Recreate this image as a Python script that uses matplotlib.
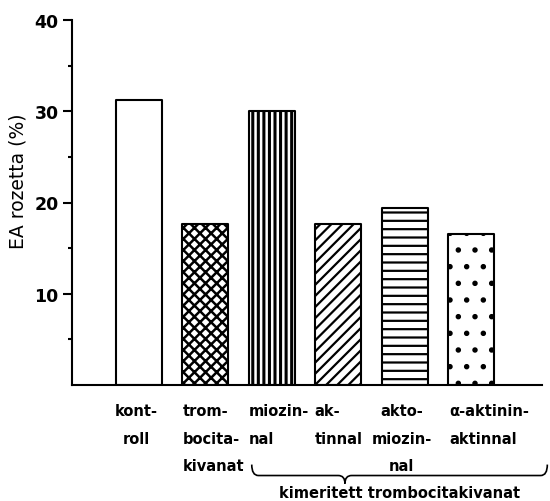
import numpy as np
import matplotlib
matplotlib.use('Agg')
import matplotlib.pyplot as plt
import matplotlib.transforms as mtransforms
from matplotlib.path import Path
from matplotlib.patches import PathPatch


# EA rosette percentages per treatment
labels = ['kont-\nroll', 'trom-\nbocita-\nkivanat', 'miozin-\nnal',
          'ak-\ntinnal', 'akto-\nmiozin-\nnal', 'α-aktinin-\naktinnal']
values = [31.2, 17.6, 30.0, 17.6, 19.4, 16.5]
group_label = 'kimeritett trombocitakivanat'
ylabel = 'EA rozetta (%)'
yticks = [10, 20, 30, 40]

# hatch style per bar
hatches = ['', 'xxx', '|||', '///', '--', '.']
hatch_lw = [1.0, 1.8, 2.2, 1.6, 1.6, 1.5]
label_ha = ['center', 'left', 'left', 'left', 'left', 'left']
label_malign = ['center', 'left', 'left', 'left', 'center', 'left']
label_dx = [-0.04, -0.34, -0.34, -0.36, -0.50, -0.33]

BAR_W = 0.69
FONT = 'DejaVu Sans'

fig = plt.figure(figsize=(5.5, 5.02), dpi=100)
ax = fig.add_axes([72 / 550, 1 - 386 / 502, 470 / 550, 365 / 502])

x = np.arange(len(values))
for i in range(len(values)):
    with plt.rc_context({'hatch.linewidth': hatch_lw[i], 'hatch.color': 'black'}):
        b = ax.bar(x[i], values[i], width=BAR_W, color='white', edgecolor='black',
                   linewidth=1.5, hatch=hatches[i], joinstyle='round')
    for p in b.patches:
        if hasattr(p, 'set_hatch_linewidth'):
            p.set_hatch_linewidth(hatch_lw[i])

ax.set_xlim(-1.0, 6.06)
ax.set_ylim(0, 40)

for s in ['top', 'right']:
    ax.spines[s].set_visible(False)
for s in ['left', 'bottom']:
    ax.spines[s].set_linewidth(1.5)

ax.set_xticks([])
ax.set_yticks(yticks)
ax.set_yticks([5, 15, 25, 35], minor=True)
ax.tick_params(axis='y', which='major', length=6.5, width=1.5, pad=3,
               labelsize=12.5)
ax.tick_params(axis='y', which='minor', length=3, width=1.5)
for t in ax.get_yticklabels():
    t.set_fontweight('bold')
    t.set_family(FONT)

ax.set_ylabel(ylabel, fontsize=13.5, family=FONT)
ax.yaxis.set_label_coords(-0.094, 0.56)

# category labels under the bars
trans = mtransforms.blended_transform_factory(ax.transData, ax.transAxes)
for i, lab in enumerate(labels):
    ax.text(x[i] + label_dx[i], -0.05, lab, transform=trans, ha=label_ha[i],
            va='top', multialignment=label_malign[i], fontsize=10.5,
            fontweight='bold', family=FONT, linespacing=2.05)

# brace grouping the extract treatments
x0, xm, x1 = 1.70, 3.10, 6.14
yt, yl, ytip = -0.218, -0.248, -0.270
dx = 0.1
verts = [(x0, yt), (x0, yl), (x0 + dx, yl), (xm - dx, yl), (xm, yl), (xm, ytip),
         (xm, yl), (xm + dx, yl), (x1 - dx, yl), (x1, yl), (x1, yt)]
codes = [Path.MOVETO, Path.CURVE3, Path.CURVE3, Path.LINETO, Path.CURVE3, Path.CURVE3,
         Path.CURVE3, Path.CURVE3, Path.LINETO, Path.CURVE3, Path.CURVE3]
brace = PathPatch(Path(verts, codes), transform=trans, fill=False,
                  edgecolor='black', linewidth=1.2, clip_on=False)
ax.add_patch(brace)
ax.text(3.92, -0.294, group_label, transform=trans, ha='center', va='center',
        fontsize=10.5, fontweight='bold', family=FONT)

fig.savefig('out.png', dpi=100)
